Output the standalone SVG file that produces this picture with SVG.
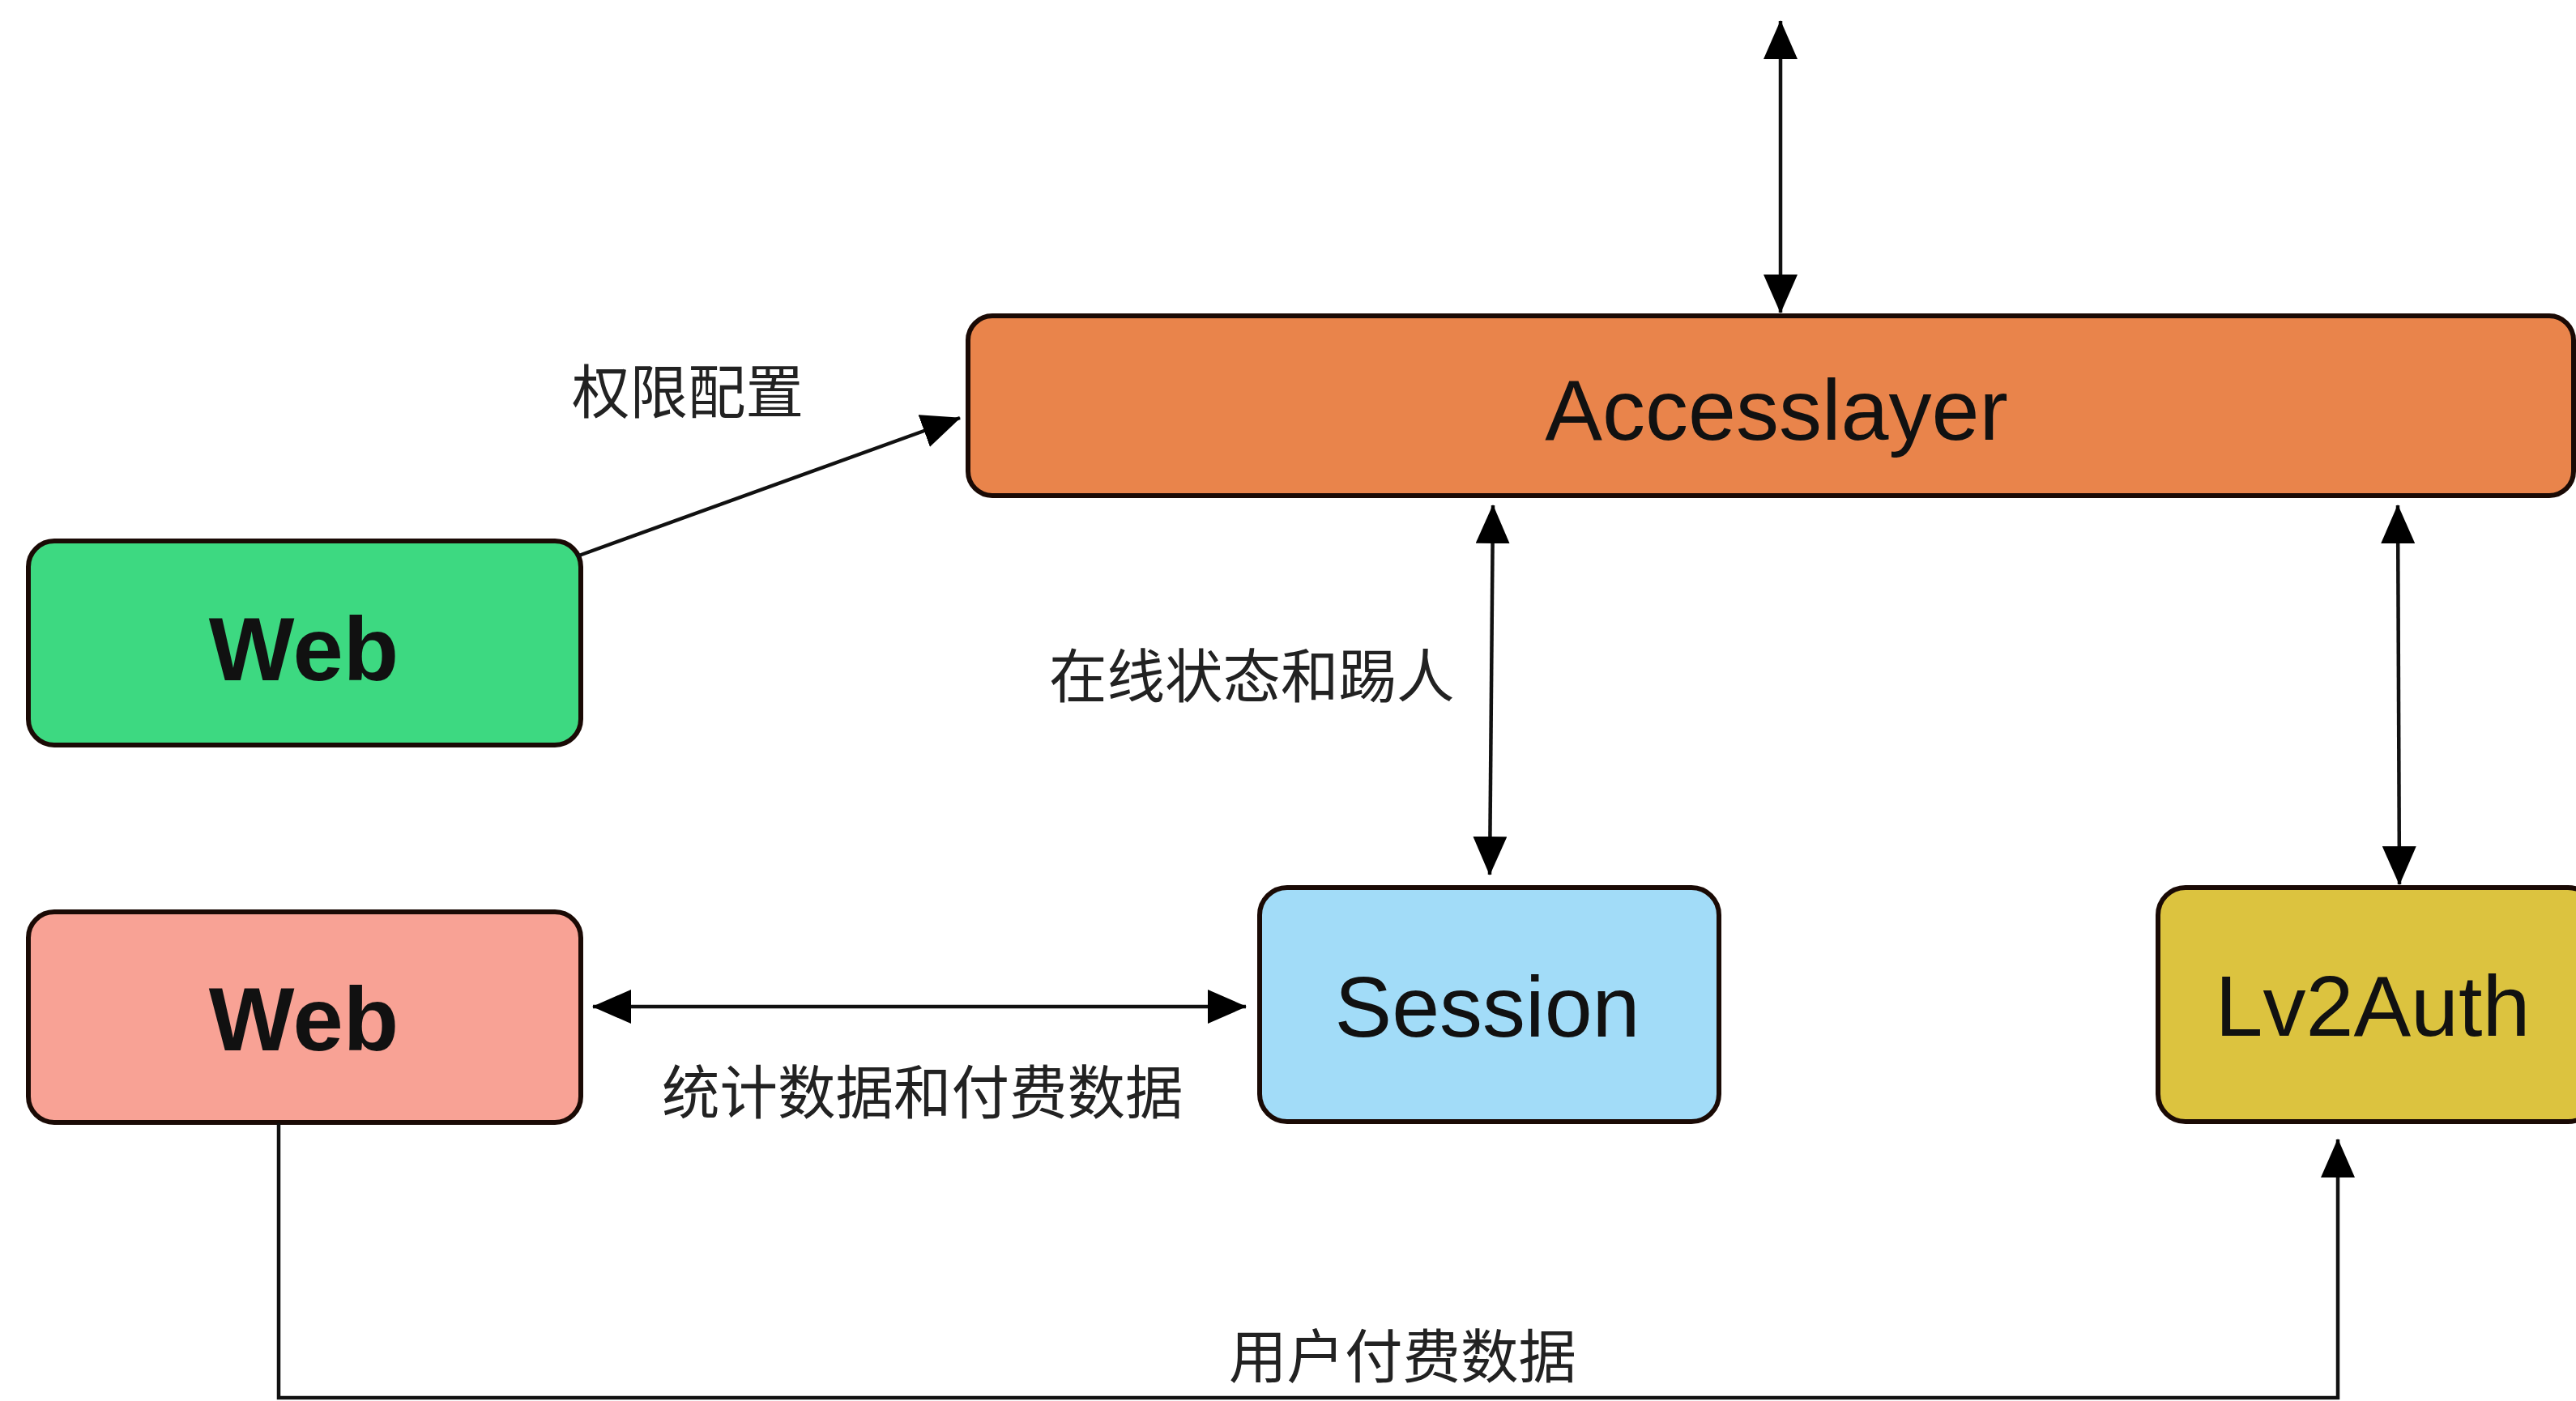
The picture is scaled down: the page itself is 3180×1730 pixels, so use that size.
<svg xmlns="http://www.w3.org/2000/svg" width="3180" height="1730" viewBox="0 0 3180 1730">
<style>
.box{stroke:#1a0a05;stroke-width:6}
.lat{font-family:"Liberation Sans",Arial,sans-serif;fill:#111;text-anchor:middle}
.cjk{font-family:"Noto Sans CJK SC","Liberation Sans",sans-serif;fill:#222;font-size:71.5px}
.con{stroke:#111;stroke-width:4.5;fill:none}
</style>
<defs>
<marker id="ah" viewBox="0 0 48 42" refX="47" refY="21" markerWidth="48" markerHeight="42" markerUnits="userSpaceOnUse" orient="auto-start-reverse">
<path d="M0,0 L48,21 L0,42 z" fill="#000"/>
</marker>
</defs>
<rect width="3180" height="1730" fill="#fff"/>
<g id="accesslayer">
<rect class="box" x="1195" y="390" width="1982" height="222" rx="30" fill="#E9844B"/>
<text class="lat" x="2193" y="543" font-size="106">Accesslayer</text>
</g>
<g id="web-green">
<rect class="box" x="35" y="668" width="682" height="252" rx="32" fill="#3DD981"/>
<text class="lat" x="375" y="840" font-size="112" font-weight="bold">Web</text>
</g>
<g id="web-pink">
<rect class="box" x="35" y="1126" width="682" height="260" rx="32" fill="#F8A295"/>
<text class="lat" x="375" y="1297" font-size="112" font-weight="bold">Web</text>
</g>
<g id="session">
<rect class="box" x="1555" y="1096" width="567" height="289" rx="34" fill="#A2DCF8"/>
<text class="lat" x="1836" y="1280" font-size="106">Session</text>
</g>
<g id="lv2auth">
<rect class="box" x="2664" y="1096" width="540" height="289" rx="34" fill="#DCC33F"/>
<text class="lat" x="2929" y="1279" font-size="106">Lv2Auth</text>
</g>
<g id="connectors">
<line class="con" x1="2198" y1="26" x2="2198" y2="386" marker-start="url(#ah)" marker-end="url(#ah)"/>
<line class="con" x1="712" y1="687" x2="1185" y2="516" marker-end="url(#ah)"/>
<line class="con" x1="1843" y1="624" x2="1839" y2="1080" marker-start="url(#ah)" marker-end="url(#ah)"/>
<line class="con" x1="2960" y1="624" x2="2962" y2="1092" marker-start="url(#ah)" marker-end="url(#ah)"/>
<line class="con" x1="732" y1="1243" x2="1538" y2="1243" marker-start="url(#ah)" marker-end="url(#ah)"/>
<polyline class="con" points="344,1387 344,1726 2886,1726 2886,1407" marker-end="url(#ah)"/>
</g>
<g id="labels">
<text class="cjk" x="706" y="510">权限配置</text>
<text class="cjk" x="1295" y="861">在线状态和踢人</text>
<text class="cjk" x="817" y="1375">统计数据和付费数据</text>
<text class="cjk" x="1517" y="1701">用户付费数据</text>
</g>
</svg>
